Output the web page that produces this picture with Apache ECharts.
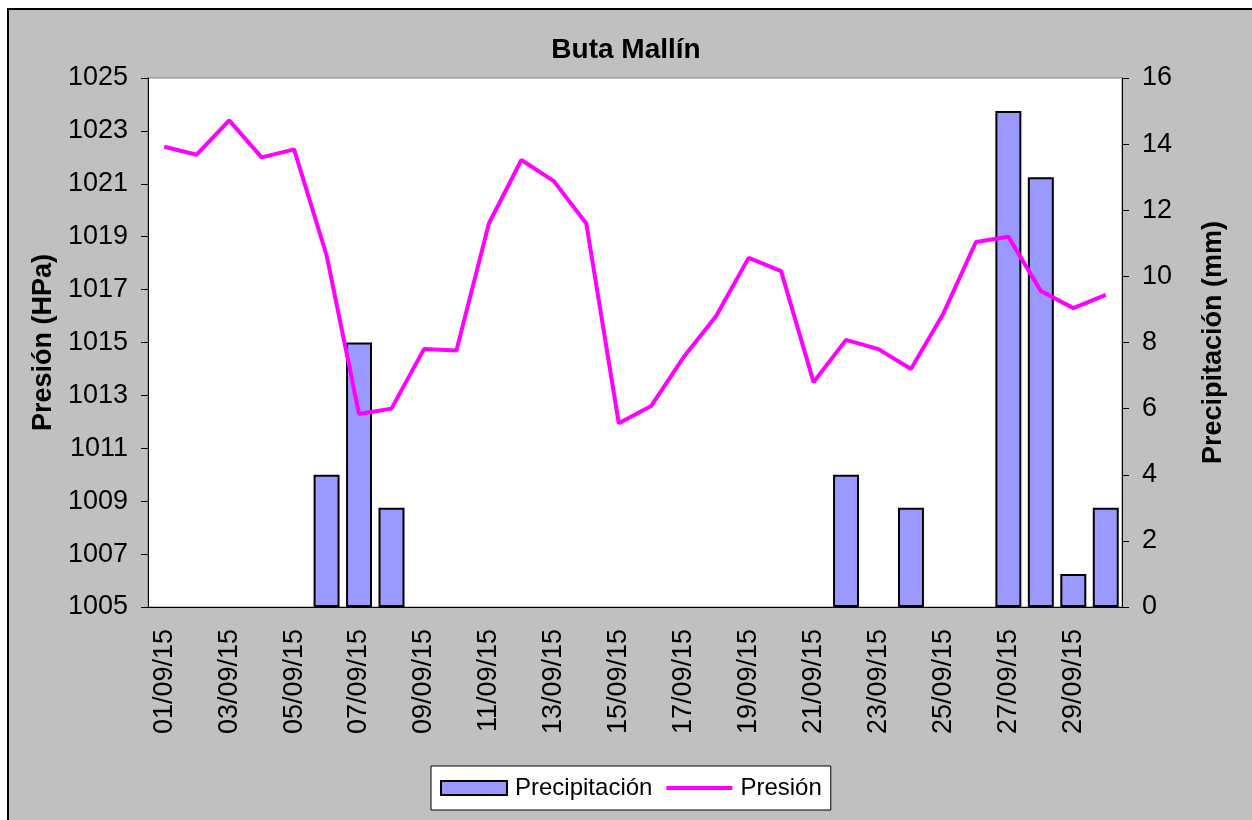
<!DOCTYPE html>
<html>
<head>
<meta charset="utf-8">
<script src="https://cdn.jsdelivr.net/npm/echarts@6/dist/echarts.min.js"></script>
<style>
  html, body { margin: 0; padding: 0; background: #fff; }
  #wrap { position: relative; width: 1252px; height: 820px; overflow: hidden; }
  #frame { position: absolute; left: 7px; top: 8px; width: 1260px; height: 830px;
           background: #c0c0c0; border: 2px solid #000; box-sizing: border-box; }
  #main { position: absolute; left: 0; top: 0; width: 1252px; height: 820px; }
</style>
</head>
<body>
<div id="wrap">
  <div id="frame"></div>
  <div id="main"></div>
</div>
<script>
// dias de septiembre 2015
var dias = [];
for (var d = 1; d <= 30; d++) {
    dias.push((d < 10 ? '0' + d : '' + d) + '/09/15');
}
// precipitacion (mm)
var precipitacion = [0, 0, 0, 0, 0, 4, 8, 3, 0, 0,
                     0, 0, 0, 0, 0, 0, 0, 0, 0, 0,
                     0, 4, 0, 3, 0, 0, 15, 13, 1, 3];
// presion (HPa)
var presion = [1022.4, 1022.1, 1023.4, 1022.0, 1022.3, 1018.3, 1012.3, 1012.5, 1014.75, 1014.7,
               1019.5, 1021.9, 1021.1, 1019.5, 1011.95, 1012.6, 1014.45, 1016.0, 1018.2, 1017.7,
               1013.5, 1015.1, 1014.75, 1014.0, 1016.1, 1018.8, 1019.0, 1016.95, 1016.3, 1016.8];

var fuente = 'Liberation Sans, Arial, sans-serif';
var myChart = echarts.init(document.getElementById('main'));
var option = {
    backgroundColor: 'transparent',
    animation: false,
    textStyle: { fontFamily: fuente },
    title: {
        text: 'Buta Mallín',
        left: 'center',
        top: 31,
        textStyle: { fontSize: 28, fontWeight: 'bold', color: '#000', fontFamily: fuente }
    },
    legend: {
        left: 431,
        top: 766,
        itemWidth: 66,
        itemHeight: 14,
        itemGap: 14,
        padding: [10, 9, 10, 9],
        backgroundColor: '#fff',
        borderColor: '#000',
        borderWidth: 1,
        textStyle: { fontSize: 24, color: '#000', fontFamily: fuente, padding: [0, 0, 0, 3] },
        data: [
            { name: 'Precipitación', icon: 'rect', itemStyle: { color: '#9999ff', borderColor: '#000', borderWidth: 2 } },
            { name: 'Presión', icon: 'path://M0,0h0.1v0.1h-0.1z M0,5h66v4h-66z M0,13.9h0.1v0.1h-0.1z',
              itemStyle: { color: '#ff00ff', borderWidth: 0 } }
        ]
    },
    grid: {
        left: 148,
        right: 130,
        top: 78,
        bottom: 213,
        show: true,
        backgroundColor: '#fff',
        borderColor: '#808080',
        borderWidth: 1
    },
    xAxis: {
        type: 'category',
        data: dias,
        boundaryGap: true,
        axisLine: { lineStyle: { color: '#000', width: 1 } },
        axisTick: { interval: 0, length: 7, lineStyle: { color: '#000' } },
        axisLabel: { interval: 1, rotate: 90, fontSize: 27, color: '#000', margin: 22, fontFamily: fuente }
    },
    yAxis: [
        {
            type: 'value',
            name: 'Presión (HPa)',
            nameLocation: 'middle',
            nameGap: 90,
            nameTextStyle: { fontSize: 27, fontWeight: 'bold', color: '#000', fontFamily: fuente },
            min: 1005,
            max: 1025,
            interval: 2,
            axisLine: { show: true, lineStyle: { color: '#000' } },
            axisTick: { show: true, length: 7, lineStyle: { color: '#000' } },
            axisLabel: {
                fontSize: 27, color: '#000', margin: 20, fontFamily: fuente,
                formatter: function (v) { return String(v); }
            },
            splitLine: { show: false }
        },
        {
            type: 'value',
            name: 'Precipitación (mm)',
            nameLocation: 'middle',
            nameGap: 78,
            nameTextStyle: { fontSize: 27, fontWeight: 'bold', color: '#000', fontFamily: fuente },
            min: 0,
            max: 16,
            interval: 2,
            position: 'right',
            axisLine: { show: true, lineStyle: { color: '#000' } },
            axisTick: { show: true, length: 7, lineStyle: { color: '#000' } },
            axisLabel: { fontSize: 27, color: '#000', margin: 20, fontFamily: fuente },
            splitLine: { show: false }
        }
    ],
    series: [
        {
            name: 'Precipitación',
            type: 'bar',
            yAxisIndex: 1,
            // los dias sin lluvia no llevan barra
            data: precipitacion.map(function (v) { return v === 0 ? '-' : v; }),
            barCategoryGap: '20%',
            itemStyle: { color: '#9999ff', borderColor: '#000', borderWidth: 2 }
        },
        {
            name: 'Presión',
            type: 'line',
            yAxisIndex: 0,
            data: presion,
            symbol: 'none',
            lineStyle: { color: '#ff00ff', width: 4 },
            itemStyle: { color: '#ff00ff' }
        }
    ]
};
myChart.setOption(option);
</script>
</body>
</html>
